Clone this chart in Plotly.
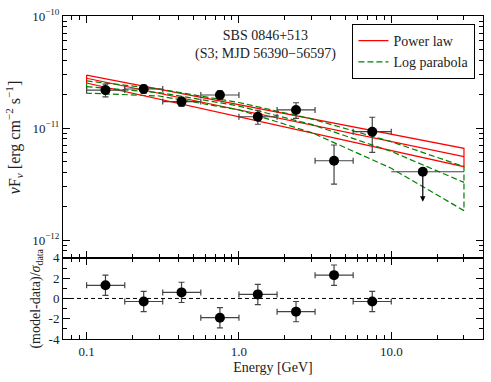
import numpy as np
import plotly.graph_objects as go
from plotly.subplots import make_subplots

# Fermi-LAT SED points (GeV, erg cm^-2 s^-1)
energy = [0.133, 0.237, 0.42, 0.75, 1.33, 2.37, 4.21, 7.5]
e_lo = [0.1, 0.178, 0.316, 0.562, 1.0, 1.78, 3.16, 5.62]
e_hi = [0.178, 0.316, 0.562, 1.0, 1.78, 3.16, 5.62, 10.0]
flux = [2.18e-11, 2.23e-11, 1.72e-11, 1.97e-11, 1.26e-11, 1.45e-11, 5.1e-12, 9.27e-12]
flux_err = [0.28e-11, 0.19e-11, 0.16e-11, 0.18e-11, 0.18e-11, 0.23e-11, 1.95e-12, 3.2e-12]

# upper limit
ul_e = [16.1]
ul_lo = [10.0]
ul_hi = [30.0]
ul_flux = [4.07e-12]
ul_tip = [2.2e-12]

# residuals
resid = [1.3, -0.3, 0.6, -1.9, 0.4, -1.3, 2.3, -0.3]
resid_err = [1, 1, 1, 1, 1, 1, 1, 1]

# power law: upper / best / lower, read at 0.1 and 30 GeV
e_pl = [0.1, 30.0]
pl_up = [2.97e-11, 6.59e-12]
pl_best = [2.78e-11, 5.55e-12]
pl_low = [2.52e-11, 4.52e-12]

# log parabola: upper / best / lower
e_lp = [0.1, 0.3, 1.0, 3.0, 10.0, 30.0]
lp_up = [2.63e-11, 2.23e-11, 1.69e-11, 1.205e-11, 7.55e-12, 4.52e-12]
lp_best = [2.34e-11, 2.07e-11, 1.57e-11, 1.076e-11, 6.18e-12, 3.27e-12]
lp_low = [2.05e-11, 1.93e-11, 1.45e-11, 9.1e-12, 4.37e-12, 1.83e-12]

FONT = "Liberation Serif"
RED = "#ff0000"
GREEN = "#008000"

fig = make_subplots(rows=2, cols=1, shared_xaxes=True, vertical_spacing=0,
                    row_heights=[0.749, 0.251])

# power law band (closed outline) + best fit
fig.add_trace(go.Scatter(x=e_pl + e_pl[::-1] + [e_pl[0]],
                         y=pl_up + pl_low[::-1] + [pl_up[0]],
                         mode="lines", line=dict(color=RED, width=1.2),
                         name="Power law", showlegend=True), row=1, col=1)
fig.add_trace(go.Scatter(x=e_pl, y=pl_best, mode="lines",
                         line=dict(color=RED, width=1.2), showlegend=False), row=1, col=1)

# log parabola band + best fit
fig.add_trace(go.Scatter(x=e_lp + e_lp[::-1] + [e_lp[0]],
                         y=lp_up + lp_low[::-1] + [lp_up[0]],
                         mode="lines", line=dict(color=GREEN, width=1.2, dash="6px,3px"),
                         name="Log parabola", showlegend=True), row=1, col=1)
fig.add_trace(go.Scatter(x=e_lp, y=lp_best, mode="lines",
                         line=dict(color=GREEN, width=1.2, dash="6px,3px"),
                         showlegend=False), row=1, col=1)

# data points
xm = [e - l for e, l in zip(energy, e_lo)]
xp = [h - e for e, h in zip(energy, e_hi)]
fig.add_trace(go.Scatter(x=energy, y=flux, mode="markers",
                         marker=dict(color="black", size=10),
                         error_x=dict(type="data", symmetric=False, array=xp, arrayminus=xm,
                                      color="#444444", thickness=1.2, width=3),
                         error_y=dict(type="data", array=flux_err,
                                      color="#444444", thickness=1.2, width=3),
                         showlegend=False), row=1, col=1)

# upper limit point
fig.add_trace(go.Scatter(x=ul_e, y=ul_flux, mode="markers",
                         marker=dict(color="black", size=10),
                         error_x=dict(type="data", symmetric=False,
                                      array=[h - e for e, h in zip(ul_e, ul_hi)],
                                      arrayminus=[e - l for e, l in zip(ul_e, ul_lo)],
                                      color="#444444", thickness=1.2, width=0),
                         showlegend=False), row=1, col=1)
for e, f, t in zip(ul_e, ul_flux, ul_tip):
    fig.add_annotation(x=np.log10(e), y=np.log10(t), ax=np.log10(e), ay=np.log10(f),
                       xref="x", yref="y", axref="x", ayref="y", text="",
                       showarrow=True, arrowhead=2, arrowsize=0.9, arrowwidth=1.2,
                       arrowcolor="black")

# residuals
fig.add_trace(go.Scatter(x=energy, y=resid, mode="markers",
                         marker=dict(color="black", size=10),
                         error_x=dict(type="data", symmetric=False, array=xp, arrayminus=xm,
                                      color="#444444", thickness=1.2, width=3),
                         error_y=dict(type="data", array=resid_err,
                                      color="#444444", thickness=1.2, width=3),
                         showlegend=False), row=2, col=1)
fig.add_shape(type="line", xref="x2 domain", yref="y2", x0=0, x1=1, y0=0, y1=0,
              line=dict(color="black", width=1, dash="4px,3px"))

xminor = [0.07, 0.08, 0.09] + [i / 10 for i in range(2, 10)] + list(range(2, 10)) + [20, 30, 40]
yminor = [m * 10.0 ** p for p in (-13, -12, -11) for m in range(2, 10)]

axis_common = dict(showline=True, linecolor="black", linewidth=1, mirror="allticks",
                   ticks="inside", tickcolor="black", ticklen=7, showgrid=False,
                   zeroline=False, tickfont=dict(family=FONT, size=13, color="#222"))

fig.update_xaxes(type="log", range=[np.log10(0.07), np.log10(40)],
                 tickvals=[0.1, 1, 10], ticktext=["0.1", "1.0", "10.0"],
                 minor=dict(tickvals=xminor, ticks="inside", ticklen=4, tickcolor="black"),
                 **axis_common)
fig.update_xaxes(showticklabels=False, row=1, col=1)
fig.update_xaxes(title=dict(text="Energy [GeV]", font=dict(family=FONT, size=14, color="#222"),
                            standoff=4), row=2, col=1)

fig.update_yaxes(type="log", range=[-12.16, -10], row=1, col=1,
                 tickvals=[1e-12, 1e-11, 1e-10],
                 ticktext=["10<sup>−12</sup>", "10<sup>−11</sup>", "10<sup>−10</sup>"],
                 minor=dict(tickvals=yminor, ticks="inside", ticklen=4, tickcolor="black"),
                 **axis_common)
fig.update_yaxes(range=[-4, 4], row=2, col=1,
                 tickvals=[-4, -2, 0, 2, 4], ticktext=["-4", "-2", "0", "2", "4"],
                 minor=dict(tickvals=[-3, -1, 1, 3], ticks="inside", ticklen=4, tickcolor="black"),
                 **axis_common)

fig.add_annotation(text="SBS 0846+513<br>(S3; MJD 56390−56597)", xref="paper", yref="paper",
                   x=(266 - 63.3) / 420, y=1 - 10 / 323, xanchor="center", yanchor="top",
                   showarrow=False, align="center",
                   font=dict(family=FONT, size=14, color="#222"))
fig.add_annotation(text="<i>ν</i>F<sub><i>ν</i></sub> [erg cm<sup>−2</sup> s<sup>−1</sup>]",
                   xref="paper", yref="paper", x=-0.115, y=0.624, textangle=-90,
                   xanchor="center", yanchor="middle",
                   showarrow=False, font=dict(family=FONT, size=16, color="#222"))
fig.add_annotation(text="(model-data)/<i>σ</i><sub>data</sub>",
                   xref="paper", yref="paper", x=-0.062, y=0.125, textangle=-90,
                   xanchor="center", yanchor="middle",
                   showarrow=False, font=dict(family=FONT, size=14, color="#222"))

fig.update_layout(
    width=491, height=382,
    margin=dict(l=63, r=8, t=16, b=43),
    plot_bgcolor="white", paper_bgcolor="white",
    legend=dict(x=0.982, y=0.975, xanchor="right", yanchor="top",
                bordercolor="black", borderwidth=1, bgcolor="white",
                font=dict(family=FONT, size=14, color="#222"),
                tracegroupgap=0, itemwidth=30),
)

fig.write_html("out.html", config={"displayModeBar": False},
               post_script="document.body.style.margin='0';")
